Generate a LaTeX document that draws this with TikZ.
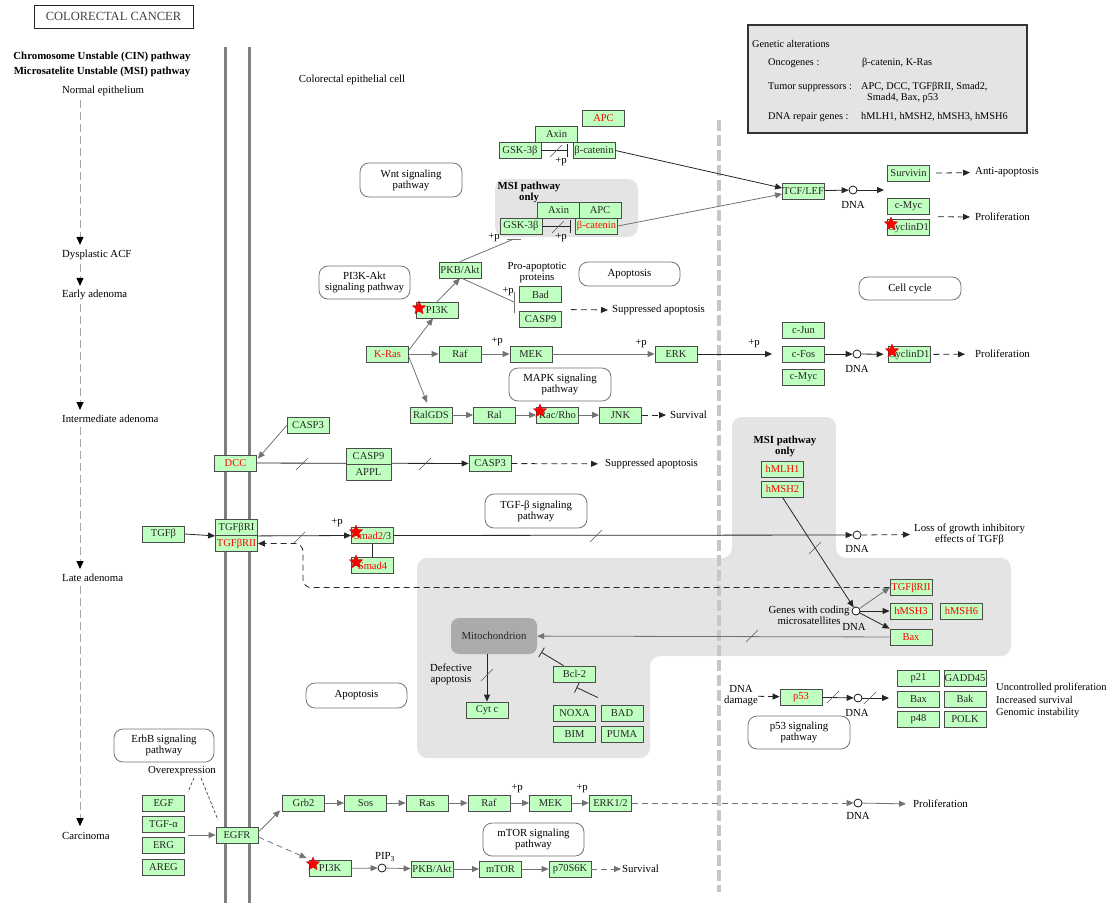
\documentclass[tikz,border=0pt]{standalone}
\usepackage{fontspec}
\setmainfont{Liberation Serif}
\usetikzlibrary{arrows.meta,shapes.geometric,calc}
\definecolor{genefill}{HTML}{BFFFBF}
\definecolor{regiongray}{HTML}{E4E4E4}
\definecolor{mitogray}{HTML}{ABABAB}
\definecolor{mut}{HTML}{FF0000}
\newcommand\kfont{\fontsize{10.8}{11}\selectfont}
\newcommand\gfont{\fontsize{10.5}{11}\selectfont}
\newcommand\lgfont{\fontsize{10.3}{11}\selectfont}

\tikzset{
  gene/.style={draw=black!70, line width=0.8pt, fill=genefill, minimum width=42pt,
    minimum height=16pt, inner sep=0pt, font=\gfont, text=black!85},
  mutgene/.style={gene, text=mut},
  pw/.style={draw=black!55, line width=0.8pt, rounded corners=9pt, fill=white,
    align=center, inner sep=0pt, font=\kfont},
  lbl/.style={font=\kfont, inner sep=0pt, align=center},
  lblw/.style={lbl, anchor=west, align=left},
  lgd/.style={lblw, font=\lgfont},
  boldlbl/.style={lbl, font=\kfont\bfseries},
  tip/.style={-{Triangle[length=7pt,width=6pt]}},
  ln/.style={draw=black!85, line width=0.8pt},
  gln/.style={draw=black!55, line width=0.8pt},
  dsh/.style={dash pattern=on 6pt off 4pt},
  inh/.style={-{Bar[width=13pt,line width=0.8pt]}},
  dna/.style={circle, draw=black, fill=white, line width=0.7pt, minimum size=8pt, inner sep=0pt},
  mstar/.style={star, star points=5, star point ratio=2.2, fill=red,
    draw=red!75!black, line width=0.3pt, minimum size=14pt, inner sep=0pt},
  slash/.pic={\draw[black!65, line width=0.6pt] (-6,6) -- (6,-6);},
  stage/.style={font=\kfont, inner sep=0pt, anchor=west},
  stg/.style={draw=black!35, line width=1pt, dash pattern=on 8pt off 4pt,
    -{Triangle[length=8pt,width=7pt,color=black]}},
}

\begin{document}
\begin{tikzpicture}[x=1pt,y=-1pt]
\useasboundingbox (0,0) rectangle (1110,903);

% shaded regions
\fill[regiongray, rounded corners=10pt] (495,179) rectangle (638,237);
\fill[regiongray, rounded corners=10pt] (732,417) -- (836,417) -- (836,558) -- (1011,558)
  -- (1011,656) -- (650,656) -- (650,758) -- (417,758) -- (417,558) -- (732,558) -- cycle;

% cell membrane and nucleus divider
\draw[line width=3pt, black!50] (225,47) -- (225,903);
\draw[line width=3pt, black!50] (249,47) -- (249,903);
\draw[line width=4pt, black!22, dash pattern=on 11pt off 4pt] (719,120) -- (719,892);

% legend
\draw[line width=1.5pt, draw=black!80, fill=regiongray] (748,25) rectangle (1027,133);
\node[lgd] (ga) at (752,44) {Genetic alterations};
\node[lgd] (onc) at (768,63) {Oncogenes :};
\node[lgd] (oncv) at (862,63) {β-catenin, K-Ras};
\node[lgd] (tsup) at (768,87) {Tumor suppressors :};
\node[lgd] (tsupv) at (861,87) {APC, DCC, TGFβRII, Smad2,};
\node[lgd] (tsupw) at (867,98) {Smad4, Bax, p53};
\node[lgd] (dnar) at (768,117) {DNA repair genes :};
\node[lgd] (dnarv) at (861,117) {hMLH1, hMSH2, hMSH3, hMSH6};

% title and stage column
\node[draw=black!85, line width=0.9pt, minimum width=159pt, minimum height=23pt, inner sep=0pt,
  font=\fontsize{12.5}{13}\selectfont, text=black!75] (title) at (113.5,16.5) {COLORECTAL CANCER};
\node[boldlbl] (hdr1) at (102,57) {Chromosome Unstable (CIN) pathway};
\node[boldlbl] (hdr2) at (102,72) {Microsatelite Unstable (MSI) pathway};
\node[stage] (ne) at (62,91) {Normal epithelium};
\node[stage] (dacf) at (62,255) {Dysplastic ACF};
\node[stage] (eade) at (62,295) {Early adenoma};
\node[stage] (iade) at (62,419) {Intermediate adenoma};
\node[stage] (lade) at (62,578) {Late adenoma};
\node[stage] (carc) at (62,836) {Carcinoma};
\draw[stg] ($(ne.south west)+(18,4)$) -- ($(dacf.north west)+(18,-5)$);
\draw[stg] ($(dacf.south west)+(18,4)$) -- ($(eade.north west)+(18,-4)$);
\draw[stg] ($(eade.south west)+(18,4)$) -- ($(iade.north west)+(18,-5)$);
\draw[stg] ($(iade.south west)+(18,4)$) -- ($(lade.north west)+(18,-5)$);
\draw[stg] ($(lade.south west)+(18,4)$) -- ($(carc.north west)+(18,-6)$);

\node[lbl] (cell) at (352,80) {Colorectal epithelial cell};

% pathway maps
\node[pw, minimum width=102pt, minimum height=34pt] (wnt) at (411,180) {Wnt signaling\\pathway};
\node[pw, minimum width=91pt, minimum height=33pt] (pi3kakt) at (364.5,282.5) {PI3K-Akt\\signaling pathway};
\node[pw, minimum width=101pt, minimum height=24pt] (apop1) at (629.5,274) {Apoptosis};
\node[pw, minimum width=102pt, minimum height=23pt] (cellcyc) at (910,288.5) {Cell cycle};
\node[pw, minimum width=102pt, minimum height=33pt] (mapk) at (560,384.5) {MAPK signaling\\pathway};
\node[pw, minimum width=102pt, minimum height=34pt] (tgfbpw) at (536,511) {TGF-β signaling\\pathway};
\node[pw, minimum width=101pt, minimum height=25pt] (apop2) at (356.5,695.5) {Apoptosis};
\node[pw, minimum width=102pt, minimum height=33pt] (p53pw) at (799,732.5) {p53 signaling\\pathway};
\node[pw, minimum width=100pt, minimum height=33pt] (erbb) at (164,745.5) {ErbB signaling\\pathway};
\node[pw, minimum width=101pt, minimum height=33pt] (mtorpw) at (533.5,839.5) {mTOR signaling\\pathway};

% Wnt / beta-catenin
\node[mutgene] (apc1) at (603.5,118) {APC};
\node[gene] (axin1) at (556.5,134.5) {Axin};
\node[gene] (gsk1) at (520,150.5) {GSK-3β};
\node[gene] (bcat1) at (594,150.5) {β-catenin};
\node[boldlbl] (msi1) at (529,192) {MSI pathway\\only};
\node[gene] (axin2) at (558.5,210.5) {Axin};
\node[gene] (apc2) at (600,210.5) {APC};
\node[gene] (gsk2) at (521,226) {GSK-3β};
\node[mutgene] (bcat2) at (596.5,226) {β-catenin};
\node[lbl] (p1) at (561,162) {+p};
\node[lbl] (p2) at (561,238) {+p};
\node[lbl] (p3) at (494,238) {+p};
\draw[ln,inh,shorten >=5pt] (gsk1) -- (bcat1);
\pic at (556,151) {slash};
\draw[ln,inh,shorten >=4pt] (gsk2) -- (bcat2);
\pic at (558,227) {slash};

\node[gene] (tcf) at (803.5,191) {TCF/LEF};
\node[dna] (dna1) at (853,190) {};
\node[lbl] (dnal1) at (853,205) {DNA};
\coordinate (tcfout) at (884,190);
\node[gene] (surv) at (908.5,173.5) {Survivin};
\node[gene] (cmyc1) at (908.5,206) {c-Myc};
\node[gene] (ccnd1) at (908.5,227.5) {CyclinD1};
\node[lblw] (antiap) at (975,172) {Anti-apoptosis};
\node[lblw] (prolif1) at (975,217) {Proliferation};
\draw[ln,tip] (bcat1.east) -- ($(tcf.west)+(0,-3)$);
\draw[gln,tip] (bcat2.east) -- ($(tcf.west)+(0,3)$);
\draw[ln,tip] (tcf) -- (dna1);
\draw[ln,tip] (dna1) -- (tcfout);
\draw[ln,dsh,tip,shorten <=6pt,shorten >=5pt] (surv) -- (antiap);
\coordinate (mycout) at ($(cmyc1.south east)!0.5!(ccnd1.north east)+(8,0)$);
\draw[ln,dsh,tip,shorten >=5pt] (mycout) -- (prolif1.west);

% PI3K-Akt
\node[gene] (pkb1) at (460,270) {PKB/Akt};
\node[gene] (pi3k1) at (437,310) {PI3K};
\node[lbl] (proap) at (537,272.5) {Pro-apoptotic\\proteins};
\node[gene] (bad1) at (540.5,294.5) {Bad};
\node[gene] (casp9a) at (540.5,319) {CASP9};
\node[lbl] (p4) at (508,292) {+p};
\node[lblw] (supp1) at (612,310) {Suppressed apoptosis};
\draw[gln,tip] (pi3k1.north) -- (pkb1.south);
\coordinate (gskbar) at (514,239);
\draw[gln] (pkb1.north) -- (gskbar);
\draw[gln] (507,239) -- (521,239);
\coordinate (badbar) at (514,302);
\draw[gln] ($(pkb1.south)+(2,0)$) -- (badbar);
\draw[gln] (514,292) -- (514,313);
\coordinate (casp9out) at ($(casp9a.north east)+(9,-1)$);
\draw[ln,dsh,tip,shorten >=4pt] (casp9out) -- (supp1.west);

% MAPK
\node[mutgene] (kras) at (387.5,354) {K-Ras};
\node[gene] (raf1) at (460,354) {Raf};
\node[gene] (mek1) at (531,354) {MEK};
\node[gene] (erk1) at (676,354) {ERK};
\node[lbl] (p5) at (497,342) {+p};
\node[lbl] (p6) at (641,344) {+p};
\node[gene] (ralgds) at (431,415) {RalGDS};
\node[gene] (ral) at (494.5,415) {Ral};
\node[gene] (rac) at (557.5,415) {Rac/Rho};
\node[gene] (jnk) at (620.5,415) {JNK};
\node[lblw] (surv1) at (670,415) {Survival};
\draw[gln,tip] ($(kras.east)+(0,-4)$) -- ($(pi3k1.south)+(-4,0)$);
\draw[gln,tip] ($(kras.east)+(0,3)$) -- ($(ralgds.north)+(-4,-4)$);
\draw[gln,tip] (kras) -- (raf1);
\draw[gln,tip] (raf1) -- (mek1);
\draw[gln,tip] (mek1) -- (erk1);
\draw[gln,tip] (ralgds) -- (ral);
\draw[gln,tip] (ral) -- (rac);
\draw[gln,tip] (rac) -- (jnk);
\draw[ln,dsh,tip,shorten >=4pt] (jnk) -- (surv1);

\node[gene] (cjun) at (803.5,330) {c-Jun};
\node[gene] (cfos) at (803.5,354) {c-Fos};
\node[gene] (cmyc2) at (803.5,377) {c-Myc};
\node[lbl] (p7) at (754,344) {+p};
\node[dna] (dna2) at (857,354) {};
\node[lbl] (dnal2) at (857,369) {DNA};
\node[gene] (ccnd2) at (909,354.5) {CyclinD1};
\node[lblw] (prolif2) at (975,354) {Proliferation};
\draw[ln,tip,shorten >=10pt] (erk1) -- (cfos);
\draw[ln,tip] (cfos) -- (dna2);
\draw[ln,tip,shorten >=4pt] (dna2) -- (ccnd2);
\draw[ln,dsh,tip,shorten <=3pt,shorten >=10pt] (ccnd2) -- (prolif2);

% DCC
\node[gene] (casp3a) at (308,425.5) {CASP3};
\node[mutgene] (dcc) at (235.5,463) {DCC};
\node[gene] (casp3b) at (490,463.5) {CASP3};
\node[lblw] (supp2) at (605,464) {Suppressed apoptosis};
\draw[gln,tip] (casp3a.west) -- ($(dcc.north east)+(1,4)$);
\draw[ln,tip] (dcc) -- (casp3b);
\node[gene, minimum width=45pt] (casp9b) at (368.5,456) {CASP9};
\node[gene, minimum width=45pt] (appl) at (368.5,472) {APPL};
\pic at (302,464) {slash};
\pic at (425,464) {slash};
\draw[ln,dsh,tip,shorten >=7pt] (casp3b) -- (supp2);

% TGF-beta
\node[gene] (tgfb) at (163.5,534) {TGFβ};
\node[gene] (tgfbr1) at (236.5,527.5) {TGFβRI};
\node[mutgene] (tgfbr2) at (236.5,543.5) {TGFβRII};
\node[gene] (smad23) at (372.5,535.5) {\textcolor{mut}{Smad2}/3};
\node[mutgene] (smad4) at (372.5,565.5) {Smad4};
\node[lbl] (p8) at (337,523) {+p};
\node[dna] (dna3) at (857,535) {};
\node[lbl] (dnal3) at (857,549) {DNA};
\node[lbl, anchor=west] (loss) at (914,534) {Loss of growth inhibitory\\effects of TGFβ};
\draw[ln,tip] (tgfb.east) -- (tgfbr1.south west);
\draw[ln,tip] (tgfbr1.south east) -- (smad23.west);
\pic at (299,538) {slash};
\draw[ln] (smad23) -- (smad4);
\draw[ln,tip] (smad23) -- (dna3);
\pic at (596,536) {slash};
\draw[ln,dsh,tip,shorten >=4pt] (dna3) -- (loss);

% MSI repair genes
\node[boldlbl] (msi2) at (785,446.5) {MSI pathway\\only};
\node[mutgene] (hmlh1) at (782.5,469) {hMLH1};
\node[mutgene] (hmsh2) at (782.5,489) {hMSH2};
\node[dna] (dna4) at (856,611) {};
\node[lbl] (gwc) at (809,615) {Genes with coding\\microsatellites};
\node[lbl] (dnal4) at (854,627) {DNA};
\node[mutgene] (tgfbr2b) at (911,587.5) {TGFβRII};
\node[mutgene] (hmsh3) at (911,611) {hMSH3};
\node[mutgene] (hmsh6) at (961.5,611) {hMSH6};
\node[mutgene] (bax1) at (911,637) {Bax};
\draw[ln,dsh,tip,rounded corners=8pt] (tgfbr2b.west) -- (303,587.5) -- (303,543.5) -- (tgfbr2.east);
\draw[ln,tip] (hmsh2.south) -- (dna4);
\pic at (815,548) {slash};
\draw[gln,tip] (dna4) -- (tgfbr2b.west);
\draw[ln,tip] (dna4) -- (hmsh3);
\draw[ln,tip] (dna4) -- (bax1.north west);

% mitochondrial apoptosis
\node[fill=mitogray, rounded corners=8pt, minimum width=86pt, minimum height=36pt, inner sep=0pt,
  font=\kfont, text=black!85] (mito) at (494,636) {Mitochondrion};
\node[lbl] (defap) at (451,674.5) {Defective\\apoptosis};
\node[gene] (cytc) at (487,710) {Cyt c};
\node[gene] (bcl2) at (574.5,674) {Bcl-2};
\node[gene] (noxa) at (574.5,713) {NOXA};
\node[gene] (bad2) at (622,713) {BAD};
\node[gene] (bim) at (574.5,734) {BIM};
\node[gene] (puma) at (622,734) {PUMA};
\draw[gln,tip] (bax1) -- (mito);
\pic at (752,636) {slash};
\draw[ln,tip] ($(mito.south)+(-7,0)$) -- (cytc.north);
\pic at (487,675) {slash};
\draw[ln,-{Bar[width=11pt,line width=0.8pt]}] ($(bcl2.north)+(-11,0)$) -- ($(mito.south east)+(4,-2)$);
\draw[ln,-{Bar[width=11pt,line width=0.8pt]}] ($(noxa.north east)+(2,-7)$) -- ($(bcl2.south)+(2,5)$);

% p53
\node[lbl] (dnadmg) at (741,696) {DNA\\damage};
\node[mutgene] (p53) at (801,697) {p53};
\node[dna] (dna5) at (858,698) {};
\node[lbl] (dnal5) at (857,713) {DNA};
\coordinate (p53out) at (889,698);
\node[gene] (p21) at (918.5,678.5) {p21};
\node[gene] (gadd) at (965,678.5) {GADD45};
\node[gene] (bax2) at (918.5,699) {Bax};
\node[gene] (bak) at (965,699) {Bak};
\node[gene] (p48) at (918.5,719.5) {p48};
\node[gene] (polk) at (965,719.5) {POLK};
\node[lblw, font=\fontsize{10.5}{11}\selectfont] (uncp) at (996,688) {Uncontrolled proliferation};
\node[lblw, font=\fontsize{10.5}{11}\selectfont] (incs) at (996,700) {Increased survival};
\node[lblw, font=\fontsize{10.5}{11}\selectfont] (geni) at (996,713) {Genomic instability};
\draw[ln,dsh,tip] (dnadmg) -- (p53);
\draw[ln,tip] (p53) -- (dna5);
\pic at (833,697) {slash};
\draw[ln,tip] (dna5) -- (p53out);
\pic at (870,698) {slash};

% EGFR
\node[lbl] (ovx) at (182,771) {Overexpression};
\coordinate (ovxa) at (188,792);
\coordinate (ovxb) at (218,820);
\node[gene] (egf) at (163.5,803) {EGF};
\node[gene] (tgfa) at (163.5,824.5) {TGF-α};
\node[gene] (erg) at (163.5,845.5) {ERG};
\node[gene] (areg) at (163.5,867) {AREG};
\node[gene] (egfr) at (237,835) {EGFR};
\node[gene] (grb2) at (303.5,803) {Grb2};
\node[gene] (sos) at (365.5,803) {Sos};
\node[gene] (ras) at (427,803) {Ras};
\node[gene] (raf2) at (489,803) {Raf};
\node[gene] (mek2) at (550.5,803) {MEK};
\node[gene] (erk12) at (610.5,803) {ERK1/2};
\node[lbl] (p9) at (517,789) {+p};
\node[lbl] (p10) at (582,789) {+p};
\node[dna] (dna6) at (858,803) {};
\node[lbl] (dnal6) at (858,816) {DNA};
\node[lblw] (prolif3) at (913,804) {Proliferation};
\node[gene] (pi3k2) at (330,868.5) {PI3K};
\node[dna] (pip3c) at (382,868) {};
\node[lbl] (pip3l) at (385,857) {PIP\textsubscript{3}};
\node[gene] (pkb2) at (432,869) {PKB/Akt};
\node[gene] (mtor) at (500.5,869) {mTOR};
\node[gene] (p70) at (570,869) {p70S6K};
\node[lblw] (surv2) at (622,869) {Survival};
\draw[ln,dash pattern=on 3pt off 2pt,line width=0.6pt] ($(ovx.south)+(12,2)$) -- (ovxa);
\draw[ln,dash pattern=on 3pt off 2pt,line width=0.6pt] ($(ovx.south)+(19,2)$) -- (ovxb);
\coordinate (tgfaout) at ($(tgfa.south east)!0.5!(erg.north east)+(3,0)$);
\draw[gln,tip] (tgfaout) -- (egfr.west);
\draw[gln,tip] ($(egfr.east)+(0,-3)$) -- ($(grb2.south west)+(-2,-1)$);
\draw[gln,dsh,tip] ($(egfr.east)+(0,2)$) -- ($(pi3k2.north west)+(-2,-2)$);
\draw[gln,tip] (grb2) -- (sos);
\draw[gln,tip] (sos) -- (ras);
\draw[gln,tip] (ras) -- (raf2);
\draw[gln,tip] (raf2) -- (mek2);
\draw[gln,tip] (mek2) -- (erk12);
\draw[gln,dsh,tip] (erk12) -- (dna6);
\draw[gln,tip,shorten >=7pt] (dna6) -- (prolif3.west);
\draw[gln,tip] (pi3k2) -- (pip3c);
\draw[gln,tip] (pip3c) -- (pkb2);
\draw[gln,tip] (pkb2) -- (mtor);
\draw[gln,tip] (mtor) -- (p70);
\draw[gln,dsh,tip,shorten >=1pt] (p70) -- (surv2);

% mutation markers
\node[mstar] (st1) at (419,308) {};
\node[mstar] (st2) at (891,224) {};
\node[mstar] (st3) at (892,351) {};
\node[mstar] (st4) at (540,411) {};
\node[mstar] (st5) at (356,532) {};
\node[mstar] (st6) at (356,562) {};
\node[mstar] (st7) at (313,864) {};
\end{tikzpicture}
\end{document}
